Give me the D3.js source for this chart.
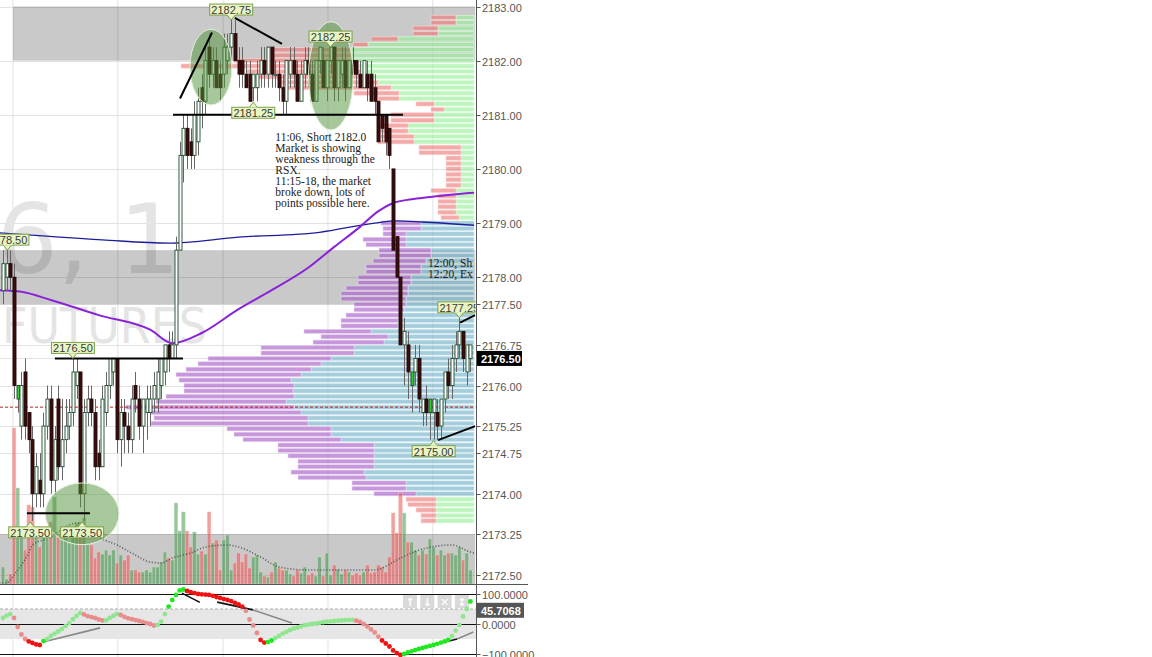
<!DOCTYPE html>
<html><head><meta charset="utf-8">
<script src="https://cdn.jsdelivr.net/npm/d3@7"></script>
<style>
html,body{margin:0;padding:0;background:#fff;}
svg{display:block;}
</style></head><body>
<svg id="c" width="1152" height="657"></svg>
<script>
// ---------- DATA ----------
const ohlc = [
[2177.75,2178.5,2177.5,2178.25],[2178.0,2178.5,2177.75,2178.25],[2178.25,2178.5,2177.75,2178.0],[2178.0,2178.25,2175.75,2176.0],
[2175.75,2176.0,2175.5,2176.0],[2175.25,2176.25,2175.0,2176.0],[2176.25,2176.5,2175.0,2175.25],[2175.5,2175.5,2174.75,2175.0],
[2175.0,2175.25,2173.5,2174.0],[2174.0,2174.75,2173.75,2174.5],[2174.25,2174.75,2173.75,2174.0],[2174.0,2175.5,2173.75,2175.25],
[2175.25,2176.0,2175.0,2175.75],[2175.75,2176.0,2174.0,2174.25],[2174.25,2175.25,2174.0,2175.0],[2175.75,2176.0,2174.25,2174.5],
[2174.5,2175.75,2174.25,2175.0],[2175.0,2175.75,2174.75,2175.25],[2175.25,2175.75,2175.0,2175.5],[2175.5,2176.5,2175.25,2176.25],
[2176.0,2176.5,2175.75,2176.25],[2176.25,2176.25,2173.75,2174.0],[2174.0,2175.75,2173.5,2175.5],[2175.5,2176.0,2175.25,2175.75],
[2175.75,2176.0,2175.25,2175.5],[2175.5,2175.75,2174.25,2174.5],[2174.75,2175.0,2174.25,2174.5],[2174.5,2176.0,2174.5,2175.75],
[2175.5,2176.25,2175.25,2176.0],[2176.0,2176.5,2175.75,2176.5],[2176.25,2176.5,2176.0,2176.5],[2176.5,2176.5,2174.75,2175.0],
[2175.0,2175.75,2174.5,2175.5],[2175.5,2175.75,2174.75,2175.25],[2175.25,2175.5,2174.75,2175.0],[2175.0,2176.0,2174.75,2175.75],
[2176.0,2176.25,2175.5,2175.75],[2175.75,2176.0,2175.0,2175.25],[2175.25,2175.75,2174.75,2175.75],[2175.5,2176.0,2175.0,2175.75],
[2175.5,2176.0,2175.25,2175.75],[2175.75,2176.25,2175.5,2176.0],[2175.75,2176.5,2175.5,2176.25],[2176.0,2176.5,2175.75,2176.5],
[2176.25,2176.75,2176.0,2176.75],[2176.75,2177.0,2176.25,2176.5],[2176.5,2177.0,2176.5,2176.75],[2176.75,2178.75,2176.5,2178.5],
[2178.5,2180.5,2178.5,2180.25],[2180.25,2181.0,2179.75,2180.75],[2180.75,2181.0,2180.0,2180.25],[2180.5,2180.75,2180.0,2180.25],
[2180.25,2181.25,2180.0,2181.0],[2180.5,2181.5,2180.25,2181.25],[2181.5,2181.75,2180.75,2181.25],[2181.25,2182.25,2181.0,2182.0],
[2182.25,2182.5,2181.5,2181.75],[2181.75,2182.25,2181.5,2182.0],[2182.0,2182.25,2181.5,2181.5],[2181.75,2182.0,2181.25,2181.5],
[2181.75,2182.5,2181.5,2182.25],[2182.0,2182.5,2181.75,2182.25],[2182.25,2182.75,2182.0,2182.5],[2182.5,2182.75,2182.0,2182.0],
[2182.0,2182.25,2181.5,2181.75],[2182.0,2182.25,2181.5,2181.75],[2181.75,2182.0,2181.5,2181.5],[2181.75,2182.0,2181.25,2181.25],
[2181.5,2181.75,2181.25,2181.75],[2181.5,2182.0,2181.25,2181.75],[2181.75,2182.25,2181.5,2182.0],[2182.0,2182.25,2181.5,2181.75],
[2181.75,2182.25,2181.5,2182.25],[2182.25,2182.25,2181.5,2181.75],[2181.75,2182.0,2181.5,2181.75],[2181.75,2182.0,2181.25,2181.5],
[2181.5,2181.75,2181.0,2181.25],[2181.25,2182.0,2181.0,2182.0],[2181.75,2182.25,2181.5,2182.0],[2182.0,2182.25,2181.5,2181.75],
[2181.75,2182.0,2181.25,2181.25],[2181.25,2182.0,2181.25,2181.75],[2181.75,2182.25,2181.5,2182.0],[2182.0,2182.25,2181.5,2181.75],
[2181.75,2182.0,2181.25,2181.25],[2181.25,2182.0,2181.25,2182.0],[2182.0,2182.25,2181.75,2182.25],[2182.0,2182.25,2181.5,2181.5],
[2181.5,2182.0,2181.25,2182.0],[2182.0,2182.25,2181.75,2182.25],[2182.25,2182.25,2181.25,2181.5],[2181.5,2182.0,2181.25,2182.0],
[2181.75,2182.25,2181.5,2182.0],[2182.0,2182.25,2181.25,2181.5],[2181.5,2182.0,2181.5,2182.0],[2182.0,2182.25,2181.75,2181.75],
[2182.0,2182.0,2181.5,2181.75],[2181.75,2182.0,2181.5,2181.5],[2181.5,2182.0,2181.5,2182.0],[2181.75,2182.0,2181.25,2181.5],
[2181.75,2182.0,2181.25,2181.25],[2181.5,2181.75,2181.0,2181.25],[2181.25,2181.25,2180.5,2180.5],[2181.0,2181.0,2180.5,2180.75],
[2181.0,2181.0,2180.25,2180.5],[2180.75,2180.75,2180.0,2180.25],[2180.0,2180.0,2178.5,2178.5],[2178.75,2178.75,2178.0,2178.0],
[2178.0,2178.0,2176.75,2176.75],[2176.75,2177.25,2176.0,2177.0],[2176.75,2177.0,2175.75,2176.25],[2176.0,2176.25,2175.5,2176.25],
[2176.25,2176.75,2176.0,2176.5],[2176.5,2176.75,2175.5,2175.75],[2175.5,2175.75,2175.25,2175.75],[2175.75,2176.0,2175.25,2175.5],
[2175.5,2175.75,2175.0,2175.75],[2175.5,2175.75,2175.0,2175.75],[2175.5,2175.75,2175.0,2175.25],[2175.25,2175.75,2175.0,2175.75],
[2175.75,2176.25,2175.5,2176.25],[2176.25,2176.5,2175.75,2176.0],[2176.0,2176.75,2175.75,2176.5],[2176.5,2177.0,2176.25,2176.75],
[2176.75,2177.25,2176.5,2177.0],[2177.0,2177.0,2176.25,2176.5],[2176.25,2176.75,2176.0,2176.75],[2176.5,2176.75,2176.25,2176.75]
];
const signalBars = [4, 111, 116];

const volume = [170,50,100,1560,960,510,340,790,770,510,
370,510,450,620,870,470,440,490,410,470,
610,620,660,400,390,260,320,300,340,290,
340,210,290,240,290,140,140,120,120,140,
120,170,170,220,320,260,240,810,530,720,
530,370,520,300,330,300,720,410,440,140,
440,490,140,210,310,220,300,160,270,290,
120,80,70,120,220,160,140,140,100,80,
140,110,170,90,110,80,270,80,310,90,
190,150,100,140,120,90,110,90,120,190,
110,120,190,170,120,270,710,510,910,710,
420,420,340,290,340,300,450,370,290,340,
290,310,310,290,370,240,310,140];

const volumeAvg = [[-1,10],[1,10],[3,90],[5,190],[7,310],[8,390],[13,470],[15,520],[20,610],[23,560],[26,470],[31,390],[35,310],[40,220],[43,210],[46,260],[51,310],[55,370],[61,390],[64,370],[70,270],[75,170],[83,140],[101,140],[103,160],[107,240],[111,310],[115,360],[122,390],[127,320],[128,310]];

const rsx = [20,28,33,20,-10,-35,-50,-58,-63,-68,
-70,-57,-50,-40,-32,-25,-17,-7,3,16,
27,37,32,26,23,20,15,12,12,20,
27,33,30,24,19,16,13,10,7,3,
0,-5,-3,8,33,58,80,97,112,115,
110,106,103,100,99,98,97,94,90,87,
83,80,76,70,65,58,44,15,-5,-30,
-53,-62,-60,-55,-47,-40,-32,-26,-20,-15,
-12,-8,-4,-2,0,1,4,6,8,9,
10,11,12,13,13,14,11,7,0,-8,
-18,-28,-42,-55,-65,-75,-88,-97,-103,-100,
-95,-91,-87,-83,-80,-76,-73,-70,-66,-62,
-58,-53,-40,-22,-3,25,50,75];

const vwapLine = [[-1,2178.82],[27,2178.69],[45,2178.63],[64,2178.74],[86,2178.83],[101,2179.0],[107,2179.04],[114,2179.02],[128,2178.96]];
const maLine = [[-1,2177.76],[5,2177.73],[13,2177.58],[26,2177.30],[40,2177.03],[46,2176.78],[54,2176.97],[64,2177.41],[73,2177.76],[83,2178.18],[90,2178.56],[97,2178.93],[102,2179.22],[106,2179.37],[111,2179.44],[116,2179.48],[121,2179.52],[128,2179.56]];

// volume profile rows: [price, left volume, right volume]
const profileRows = [
[2182.8,25,18],[2182.7,25,18],[2182.6,25,36],[2182.5,25,36],[2182.4,27,76],[2182.3,15,106],[2182.2,80,123],[2182.1,80,123],
[2182.0,117,123],[2181.9,177,116],[2181.8,115,113],[2181.7,115,108],[2181.6,97,96],[2181.5,110,83],[2181.4,45,75],[2181.3,21,75],
[2181.2,18,40],[2181.1,13,30],[2181.0,43,40],[2180.9,43,40],[2180.8,30,66],[2180.7,30,66],[2180.6,36,60],[2180.5,36,60],
[2180.4,42,13],[2180.3,42,13],[2180.2,15,13],[2180.1,15,13],[2180.0,15,13],[2179.9,15,13],[2179.8,15,13],[2179.7,15,13],
[2179.6,25,18],[2179.5,18,18],[2179.4,18,18],[2179.3,18,18],[2179.2,18,18],[2179.1,18,15],
[2179.0,40,53],[2178.9,38,53],[2178.8,23,68],[2178.7,43,68],[2178.6,40,68],[2178.5,52,43],[2178.4,52,43],[2178.3,53,48],
[2178.2,55,53],[2178.1,55,53],[2178.0,53,63],[2177.9,53,63],[2177.8,62,66],[2177.7,67,66],[2177.6,65,68],[2177.5,52,68],
[2177.4,50,70],[2177.3,55,73],[2177.2,57,76],[2177.1,57,76],[2177.0,67,103],[2176.9,67,86],[2176.8,71,90],[2176.7,93,120],
[2176.6,93,120],[2176.5,123,143],[2176.4,123,153],[2176.3,125,163],[2176.2,125,173],[2176.1,112,183],[2176.0,110,180],[2175.9,109,181],
[2175.8,128,180],[2175.7,130,188],[2175.6,168,180],[2175.5,150,173],[2175.4,154,166],[2175.3,157,166],[2175.2,104,143],[2175.1,97,143],
[2175.0,98,133],[2174.9,96,100],[2174.8,96,100],[2174.7,86,100],[2174.6,76,100],[2174.5,76,100],[2174.4,73,110],[2174.3,68,108],
[2174.2,54,68],[2174.1,54,68],[2174.0,42,58],
[2173.9,30,38],[2173.8,28,38],[2173.7,20,38],[2173.6,15,38],[2173.5,15,38]
];
const valueAreaHigh = 2179.0, valueAreaLow = 2174.0;
const pocPrice = 2175.6;
const upperPocPrice = 2181.75;

const priceTicks = [2183.00,2182.00,2181.00,2180.00,2179.00,2178.00,2177.50,2176.75,2176.50,2176.00,2175.25,2174.75,2174.00,2173.25,2172.50];
const lastPrice = 2176.50;
const oscTicks = [100, 0, -100];
const oscLast = 45.7068;
const timeGrid = [2.7, 31.2, 59.8, 88.3, 116.8];

const priceBands = [{lo:2182, hi:2183, from:2.7}, {lo:2177.5, hi:2178.5, from:-1}];
const volumeBand = [0, 500];
const oscBand = [-50, 50];

const priceCallouts = [
 {text:"2182.75", i:62, p:2182.75, dir:"down"},
 {text:"2182.25", i:89, p:2182.25, dir:"down"},
 {text:"2181.25", i:68, p:2181.25, dir:"up"},
 {text:"2178.50", i:1.2, p:2178.5, dir:"down"},
 {text:"2176.50", i:19, p:2176.5, dir:"down"},
 {text:"2173.50", i:7.4, p:2173.5, dir:"up"},
 {text:"2173.50", i:21.5, p:2173.5, dir:"up"},
 {text:"2175.00", i:117, p:2175.0, dir:"up"},
 {text:"2177.25", i:124, p:2177.25, dir:"down"}
];
const trendLines = [
 [48.1,2181.3,56.8,2182.52],
 [63,2182.79,75.8,2182.31],
 [46.2,2181.0,108.7,2181.0],
 [14.1,2176.5,48.9,2176.5],
 [6.5,2173.64,23.6,2173.64],
 [118.2,2174.99,128.3,2175.25],
 [124.2,2177.16,128.3,2177.30]
];
const oscTrendLines = [
 {a:[10.9,-60,26.4,-13], c:"#888"},
 {a:[48.6,103,53.5,72], c:"#111"},
 {a:[58.2,73,67.9,47], c:"#111"},
 {a:[67.9,47,78.5,3], c:"#888"},
 {a:[120.1,-60,123.4,-50], c:"#111"},
 {a:[123.4,-50,127.8,-27], c:"#888"}
];
const zones = [
 {i:56.5, p:2181.88, ri:5.7, rp:0.70},
 {i:89.1, p:2181.72, ri:6.1, rp:1.0},
 {i:21.5, p:2173.63, ri:10, rp:0.57}
];
const notes = [
 {i:74, p:2180.59, lines:["11:06, Short 2182.0","Market is showing","weakness through the","RSX.","11:15-18, the market","broke down, lots of","points possible here."]},
 {i:115.5, p:2178.26, lines:["12:00, Sh","12:20, Ex"]}
];

// ---------- SCALES ----------
const svg = d3.select("#c");
const x = d3.scaleLinear().domain([0,127]).range([3,470.4]);
const y = d3.scaleLinear().domain([2172.5,2183]).range([575,6.5]);
const yv = d3.scaleLinear().domain([0,1000]).range([584,484]);
const yo = d3.scaleLinear().domain([-100,100]).range([654,594]);
const pw = d3.scaleLinear().domain([0,100]).range([0,100]);
const R = 475.5, AX = 476.5, MB = 584.5;

const defs = svg.append("defs");
defs.append("clipPath").attr("id","cm").append("rect").attr("x",0).attr("y",0).attr("width",R).attr("height",MB);
defs.append("clipPath").attr("id","co").append("rect").attr("x",0).attr("y",MB+0.5).attr("width",AX).attr("height",80);

svg.append("rect").attr("width",1152).attr("height",657).attr("fill","#fff");
const m = svg.append("g").attr("clip-path","url(#cm)");
const o = svg.append("g").attr("clip-path","url(#co)");

// grid
m.selectAll(".vg").data(timeGrid).join("line").attr("x1",d=>x(d)).attr("x2",d=>x(d)).attr("y1",0).attr("y2",MB).attr("stroke","#e2e2e2");
o.selectAll(".vg").data(timeGrid).join("line").attr("x1",d=>x(d)).attr("x2",d=>x(d)).attr("y1",MB).attr("y2",657).attr("stroke","#e2e2e2");
m.selectAll(".hg").data(priceTicks).join("line").attr("x1",0).attr("x2",R).attr("y1",d=>Math.round(y(d))+0.5).attr("y2",d=>Math.round(y(d))+0.5).attr("stroke","#e2e2e2");

// watermark
m.append("text").attr("x",180).attr("y",273).attr("text-anchor","end").attr("font-family","DejaVu Sans").attr("font-size",96).attr("fill","#e4e4e4").text("ESU6, 1");
m.append("text").attr("x",2).attr("y",343).attr("font-family","DejaVu Sans").attr("font-size",49).attr("fill","#e4e4e4").attr("textLength",205).attr("lengthAdjust","spacingAndGlyphs").text("FUTURES");

// bands
m.selectAll(".pb").data(priceBands).join("rect").attr("x",d=>x(d.from)).attr("width",d=>R-x(d.from)).attr("y",d=>y(d.hi)).attr("height",d=>y(d.lo)-y(d.hi)).attr("fill","#000").attr("fill-opacity",0.21);
m.append("rect").attr("x",0).attr("width",R).attr("y",yv(volumeBand[1])).attr("height",yv(volumeBand[0])-yv(volumeBand[1])).attr("fill","#000").attr("fill-opacity",0.21);

// volume profile
const inVA = p => p <= valueAreaHigh+1e-6 && p >= valueAreaLow-1e-6;
const pr = m.append("g");
const rowH = 4.2;
profileRows.forEach(([p,lv,rv])=>{
  const yc = y(p);
  const va = inVA(p);
  const xr = 474 - pw(rv);
  pr.append("rect").attr("x",xr).attr("y",yc-rowH/2).attr("width",pw(rv)).attr("height",rowH)
    .attr("fill", va ? "#75b2c9" : "#9bf09b").attr("fill-opacity",0.65)
    .attr("stroke", va ? "#d4ecf3" : "#e2fde2").attr("stroke-width",0.6);
  pr.append("rect").attr("x",xr-pw(lv)).attr("y",yc-rowH/2).attr("width",pw(lv)).attr("height",rowH)
    .attr("fill", va ? "#a860c8" : "#f07d7d").attr("fill-opacity",0.65)
    .attr("stroke", va ? "#ead6f3" : "#fbd8d8").attr("stroke-width",0.6);
});

// volume bars
m.selectAll(".vb").data(volume).join("rect")
  .attr("x",(d,i)=>x(i)-1.8).attr("width",3.6)
  .attr("y",d=>yv(d)).attr("height",d=>yv(0)-yv(d))
  .attr("fill",(d,i)=> ohlc[i][3]>=ohlc[i][0] ? "#46964a" : "#e65050").attr("fill-opacity",0.55)
  .attr("stroke",(d,i)=> ohlc[i][3]>=ohlc[i][0] ? "#bfe0bf" : "#f8c0c0").attr("stroke-width",0.5);
m.append("path").datum(volumeAvg).attr("d",d3.line().x(d=>x(d[0])).y(d=>yv(d[1])).curve(d3.curveMonotoneX))
  .attr("fill","none").attr("stroke","#555").attr("stroke-width",1.6).attr("stroke-dasharray","1,2");

// lines
m.append("path").datum(vwapLine).attr("d",d3.line().x(d=>x(d[0])).y(d=>y(d[1])).curve(d3.curveMonotoneX))
  .attr("fill","none").attr("stroke","#1d1d9a").attr("stroke-width",1.3);
m.append("path").datum(maLine).attr("d",d3.line().x(d=>x(d[0])).y(d=>y(d[1])).curve(d3.curveMonotoneX))
  .attr("fill","none").attr("stroke","#8a22d8").attr("stroke-width",2);

// POC lines
m.append("line").attr("x1",0).attr("x2",R).attr("y1",y(pocPrice)).attr("y2",y(pocPrice)).attr("stroke","#c02020").attr("stroke-dasharray","3,2").attr("stroke-width",1);
m.append("line").attr("x1",x(47.5)).attr("x2",R).attr("y1",y(upperPocPrice)).attr("y2",y(upperPocPrice)).attr("stroke","#fff").attr("stroke-dasharray","2,2").attr("stroke-width",1);

// candles
const cg = m.append("g");
ohlc.forEach((d,i)=>{
  const [op,hi,lo,cl] = d;
  const cx = Math.round(x(i))+0.5;
  cg.append("line").attr("x1",cx).attr("x2",cx).attr("y1",y(hi)).attr("y2",y(lo)).attr("stroke","#666").attr("stroke-width",1);
  const up = cl >= op;
  const top = y(Math.max(op,cl)), bot = y(Math.min(op,cl));
  const sig = signalBars.includes(i);
  cg.append("rect").attr("x",cx-1.5).attr("width",3).attr("y",top).attr("height",Math.max(1.2,bot-top))
    .attr("fill", sig ? "#2fcc2f" : (up ? "#ffffff" : "#3a0d0d"))
    .attr("stroke", up ? "#1d4a2c" : "#240808").attr("stroke-width",0.9);
});

// zones
m.selectAll(".zn").data(zones).join("ellipse")
  .attr("cx",d=>x(d.i)).attr("cy",d=>y(d.p)).attr("rx",d=>x(d.ri)-x(0)).attr("ry",d=>y(d.p-d.rp)-y(d.p))
  .attr("fill","rgb(80,145,55)").attr("fill-opacity",0.5).attr("stroke","#e4f0dc").attr("stroke-width",1);

// trend lines
m.selectAll(".tl").data(trendLines).join("line")
  .attr("x1",d=>x(d[0])).attr("y1",d=>y(d[1])).attr("x2",d=>x(d[2])).attr("y2",d=>y(d[3]))
  .attr("stroke","#000").attr("stroke-width",2);

// callouts
priceCallouts.forEach(c=>{
  const tx = x(c.i), ty = y(c.p);
  const g = m.append("g");
  const bw = 43, bh = 11;
  let by, tri;
  if (c.dir==="down"){ by = ty-5-bh; tri = [[tx-4,ty-5],[tx,ty],[tx+4,ty-5]]; }
  else { by = ty+6; tri = [[tx-4,ty+6],[tx,ty+1],[tx+4,ty+6]]; }
  g.append("rect").attr("x",tx-bw/2).attr("y",by).attr("width",bw).attr("height",bh).attr("fill","#e8f5c4").attr("stroke","#7e9e48").attr("stroke-width",1);
  g.append("path").attr("d",d3.line()(tri)).attr("fill","#e8f5c4").attr("stroke","#7e9e48").attr("stroke-width",1);
  g.append("rect").attr("x",tx-4.5).attr("y",c.dir==="down"?by+bh-1.5:by+0.5).attr("width",9).attr("height",1.5).attr("fill","#e8f5c4");
  g.append("text").attr("x",tx).attr("y",by+bh/2+0.5).attr("text-anchor","middle").attr("dominant-baseline","central")
    .attr("font-family","Liberation Sans, Arial").attr("font-size",11).attr("fill","#3a3a3a").text(c.text);
});

// notes
notes.forEach(n=>{
  const t = m.append("text").attr("font-family","Liberation Serif, Times New Roman").attr("font-size",11.5).attr("fill","#222");
  n.lines.forEach((l,k)=>{
    t.append("tspan").attr("x",x(n.i)).attr("y",y(n.p)+4+k*11).text(l);
  });
});

// separator & axis
svg.append("line").attr("x1",0).attr("x2",528).attr("y1",MB).attr("y2",MB).attr("stroke","#555");
svg.append("line").attr("x1",AX).attr("x2",AX).attr("y1",0).attr("y2",657).attr("stroke","#555");
const ax = svg.append("g").attr("font-family","Liberation Sans, Arial").attr("font-size",11);
priceTicks.forEach(p=>{
  const yy = Math.round(y(p))+0.5;
  ax.append("line").attr("x1",AX).attr("x2",AX+4).attr("y1",yy).attr("y2",yy).attr("stroke","#555");
  if (p !== lastPrice) ax.append("text").attr("x",482).attr("y",yy).attr("dominant-baseline","central").attr("fill","#555").text(d3.format(".2f")(p));
});
ax.append("rect").attr("x",AX+0.5).attr("y",y(lastPrice)-7.5).attr("width",45).attr("height",15).attr("fill","#000");
ax.append("text").attr("x",481).attr("y",y(lastPrice)+0.5).attr("dominant-baseline","central").attr("fill","#fff").attr("font-weight","bold").text(d3.format(".2f")(lastPrice));

// oscillator panel
o.append("rect").attr("x",0).attr("width",AX).attr("y",yo(oscBand[1])).attr("height",yo(oscBand[0])-yo(oscBand[1])).attr("fill","#e6e6e6");
o.append("line").attr("x1",0).attr("x2",AX).attr("y1",yo(oscBand[1])).attr("y2",yo(oscBand[1])).attr("stroke","#aaa").attr("stroke-dasharray","3,2");
o.selectAll(".ol").data(oscTicks).join("line").attr("x1",0).attr("x2",AX).attr("y1",d=>Math.round(yo(d))+0.5).attr("y2",d=>Math.round(yo(d))+0.5).attr("stroke","#111");
o.selectAll(".otl").data(oscTrendLines).join("line")
  .attr("x1",d=>x(d.a[0])).attr("y1",d=>yo(d.a[1])).attr("x2",d=>x(d.a[2])).attr("y2",d=>yo(d.a[3]))
  .attr("stroke",d=>d.c).attr("stroke-width",1.6);
// buttons
const btn = ["↑","↓","✕","↕"];
btn.forEach((b,k)=>{
  o.append("rect").attr("x",403+k*17.3).attr("y",595).attr("width",14).attr("height",13).attr("fill","#d9d9d9");
  o.append("text").attr("x",410+k*17.3).attr("y",602).attr("text-anchor","middle").attr("dominant-baseline","central").attr("fill","#fff").attr("font-family","DejaVu Sans").attr("font-size",11).attr("font-weight","bold").text(b);
});
o.selectAll(".od").data(rsx).join("circle")
  .attr("cx",(d,i)=>x(i)).attr("cy",d=>yo(d)).attr("r",2.4)
  .attr("fill",(d,i)=>{
    const up = i===0 ? true : d >= rsx[i-1];
    const strong = Math.abs(d) > 50;
    if (up) return strong ? "#1ee81e" : "#8fe68f";
    return strong ? "#f01212" : "#e88c8c";
  });
oscTicks.forEach(v=>{
  const yy = Math.round(yo(v))+0.5;
  ax.append("line").attr("x1",AX).attr("x2",AX+4).attr("y1",yy).attr("y2",yy).attr("stroke","#555");
  ax.append("text").attr("x",482).attr("y",yy).attr("dominant-baseline","central").attr("fill","#555").text(d3.format(".4f")(v));
});
ax.append("rect").attr("x",AX+0.5).attr("y",yo(oscLast)-7.5).attr("width",47).attr("height",15).attr("fill","#555");
ax.append("text").attr("x",481).attr("y",yo(oscLast)+0.5).attr("dominant-baseline","central").attr("fill","#fff").attr("font-weight","bold").text(d3.format(".4f")(oscLast));
</script>
</body></html>
